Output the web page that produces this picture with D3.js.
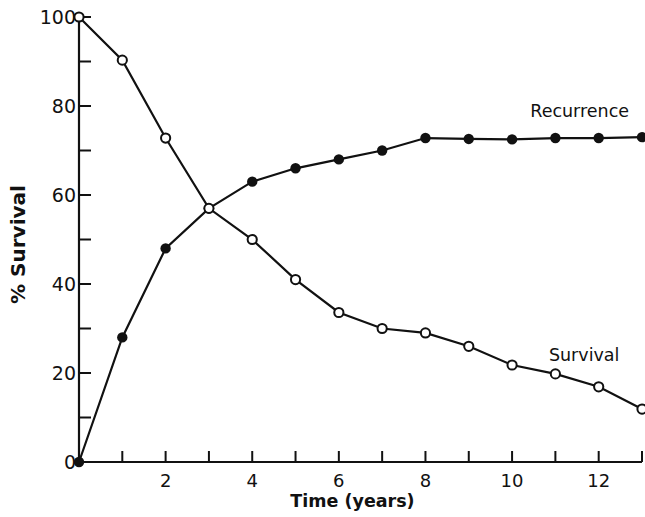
<!DOCTYPE html>
<html><head><meta charset="utf-8">
<script src="https://cdn.jsdelivr.net/npm/d3@7"></script>
<style>body{margin:0;background:#fff}svg{display:block}text{font-family:"DejaVu Sans",sans-serif;fill:#111}</style>
</head><body><svg id="c" width="645" height="517"></svg>
<script>
const years = [0,1,2,3,4,5,6,7,8,9,10,11,12,13];
const survival = [100,90.3,72.8,57,50,41,33.6,30,29,26,21.8,19.8,16.9,11.9];
const recurrence = [0,28,48,57,63,66,68,70,72.8,72.6,72.5,72.8,72.8,73];
const xTickLabels = [2,4,6,8,10,12];
const yTickLabels = [0,20,40,60,80,100];
const seriesLabels = ["Recurrence","Survival"];

const svg = d3.select("#c");
const x = d3.scaleLinear().domain([0,13]).range([79,642]);
const y = d3.scaleLinear().domain([0,100]).range([462,17]);

svg.append("line").attr("x1",x(0)).attr("x2",x(13)).attr("y1",y(0)).attr("y2",y(0)).attr("stroke","#111").attr("stroke-width",2.2);
svg.append("line").attr("x1",x(0)).attr("x2",x(0)).attr("y1",y(0)).attr("y2",y(100)).attr("stroke","#111").attr("stroke-width",2.2);
svg.selectAll(".xt").data(d3.range(1,14)).enter().append("line")
  .attr("x1",d=>x(d)).attr("x2",d=>x(d)).attr("y1",y(0)).attr("y2",y(0)-11).attr("stroke","#111").attr("stroke-width",2);
svg.selectAll(".xl").data(xTickLabels).enter().append("text")
  .attr("x",d=>x(d)).attr("y",y(0)+25).attr("text-anchor","middle").attr("font-size",18).text(d=>d);
svg.selectAll(".yt").data(d3.range(10,101,10)).enter().append("line")
  .attr("x1",x(0)).attr("x2",x(0)+12).attr("y1",d=>y(d)).attr("y2",d=>y(d)).attr("stroke","#111").attr("stroke-width",2);
svg.selectAll(".yl").data(yTickLabels).enter().append("text")
  .attr("x",x(0)-3).attr("y",d=>y(d)+7).attr("text-anchor","end").attr("font-size",19).text(d=>d);

svg.append("text").attr("x",x(6.5)-8).attr("y",507).attr("text-anchor","middle").attr("font-size",17.5).attr("font-weight","bold").text("Time (years)");
svg.append("text").attr("transform",`translate(25,${y(50)+5}) rotate(-90)`).attr("text-anchor","middle").attr("font-size",20).attr("font-weight","bold").text("% Survival");

const line = d3.line().x((d,i)=>x(years[i])).y(d=>y(d));
svg.append("path").attr("d",line(survival)).attr("fill","none").attr("stroke","#111").attr("stroke-width",2.2);
svg.append("path").attr("d",line(recurrence)).attr("fill","none").attr("stroke","#111").attr("stroke-width",2.2);

svg.selectAll(".rp").data(recurrence).enter().append("circle")
  .attr("cx",(d,i)=>x(years[i])).attr("cy",d=>y(d)).attr("r",5.2).attr("fill","#111");
svg.selectAll(".sp").data(survival).enter().append("circle")
  .attr("cx",(d,i)=>x(years[i])).attr("cy",d=>y(d)).attr("r",4.6).attr("fill","#fff").attr("stroke","#111").attr("stroke-width",2);

svg.append("text").attr("x",x(10.42)).attr("y",y(77.5)).attr("font-size",17.5).text(seriesLabels[0]);
svg.append("text").attr("x",x(10.85)).attr("y",y(22.8)).attr("font-size",17.5).text(seriesLabels[1]);
</script></body></html>
